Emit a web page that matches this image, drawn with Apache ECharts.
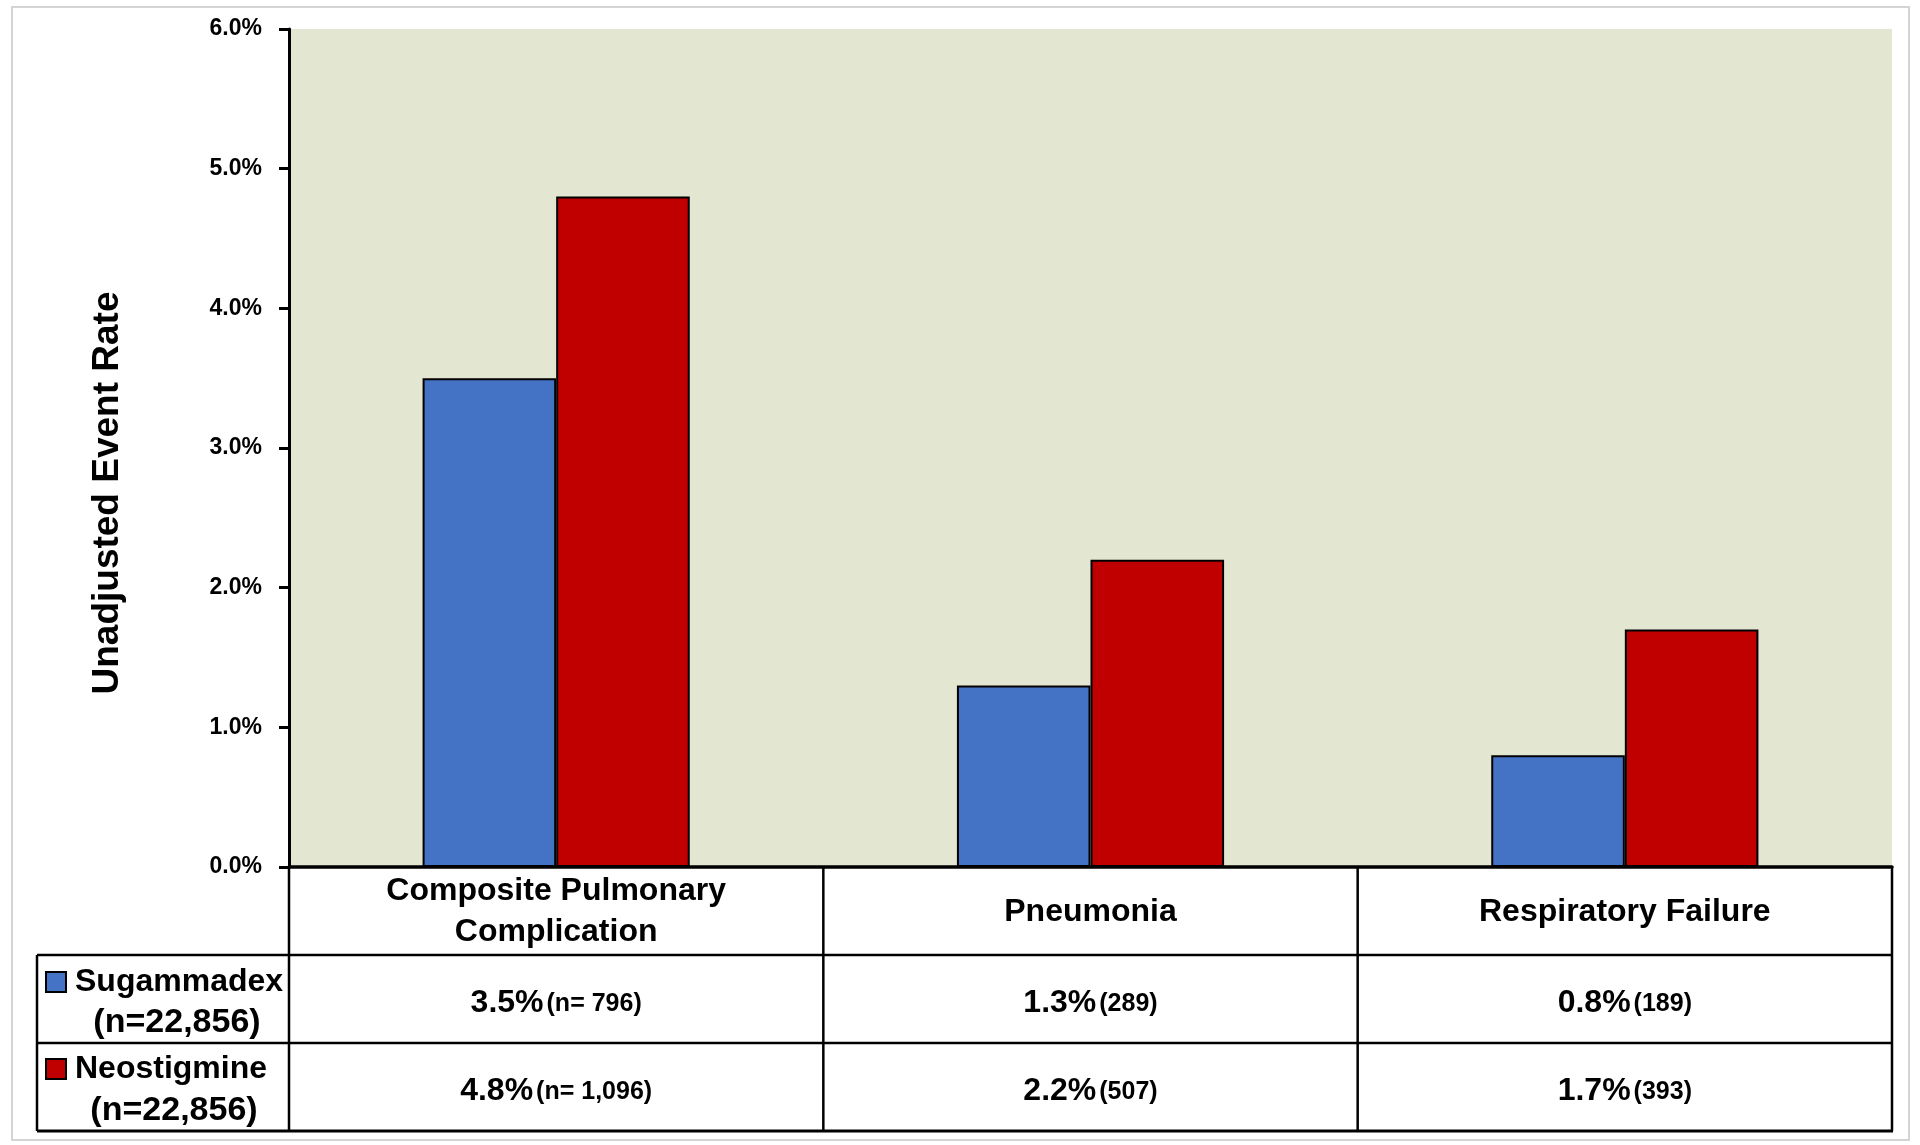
<!DOCTYPE html>
<html>
<head>
<meta charset="utf-8">
<script src="https://cdn.jsdelivr.net/npm/echarts@6/dist/echarts.min.js"></script>
<style>
  html, body { margin: 0; padding: 0; background: #ffffff; }
  #chart { width: 1920px; height: 1145px; }
</style>
</head>
<body>
<div id="chart"></div>
<script>
// ---- Data ----
const categories = ['Composite Pulmonary\nComplication', 'Pneumonia', 'Respiratory Failure'];
const seriesNames = ['Sugammadex', 'Neostigmine'];
const groupSizes = ['(n=22,856)', '(n=22,856)'];
const sugammadexRate = [3.5, 1.3, 0.8];
const neostigmineRate = [4.8, 2.2, 1.7];
const sugammadexCounts = ['(n= 796)', '(289)', '(189)'];
const neostigmineCounts = ['(n= 1,096)', '(507)', '(393)'];
const yMin = 0, yMax = 6, yStep = 1;
const yAxisTitle = 'Unadjusted Event Rate';

// ---- Layout / style ----
const FONT = "'Liberation Sans', Arial, sans-serif";
const colors = ['#4472C4', '#C00000'];
const W = 1920, H = 1145;
const gL = 289, gR = 1892, gT = 29, gB = 867;
const rows = [867, 955, 1043, 1131];
const tableLeft = 37;

const chart = echarts.init(document.getElementById('chart'), null, { renderer: 'canvas', width: W, height: H });

const colW = (gR - gL) / categories.length;
const graphics = [];

// outer frame
graphics.push({
  type: 'rect', silent: true, z: -10,
  shape: { x: 12, y: 7, width: 1897, height: 1133 },
  style: { fill: '#ffffff', stroke: '#d4d4d4', lineWidth: 2 }
});

// table lines
function hline(y, x1, x2, w) {
  graphics.push({ type: 'line', silent: true, z: 50, shape: { x1: x1, y1: y, x2: x2, y2: y }, style: { stroke: '#000', lineWidth: w } });
}
function vline(x, y1, y2, w) {
  graphics.push({ type: 'line', silent: true, z: 50, shape: { x1: x, y1: y1, x2: x, y2: y2 }, style: { stroke: '#000', lineWidth: w } });
}
hline(rows[1], tableLeft, gR, 2.5);
hline(rows[2], tableLeft, gR, 2.5);
hline(rows[3], tableLeft, gR + 1, 3);
vline(tableLeft, rows[1], rows[3], 2.5);
for (let i = 0; i <= categories.length; i++) {
  vline(gL + i * colW, rows[0], rows[3], 2.5);
}

// legend column second lines
const legendCenters = [177, 174];
groupSizes.forEach(function (t, r) {
  graphics.push({
    type: 'text', silent: true, z: 60,
    style: {
      x: legendCenters[r], y: rows[1 + r] + 68, text: t,
      fill: '#000', font: 'bold 34px ' + FONT, align: 'center', verticalAlign: 'middle'
    }
  });
});

// data cells
const rates = [sugammadexRate, neostigmineRate];
const counts = [sugammadexCounts, neostigmineCounts];
for (let r = 0; r < 2; r++) {
  for (let c = 0; c < categories.length; c++) {
    graphics.push({
      type: 'text', silent: true, z: 60,
      style: {
        x: gL + (c + 0.5) * colW, y: (rows[1 + r] + rows[2 + r]) / 2 + 4,
        text: '{a|' + rates[r][c].toFixed(1) + '%}{b|' + counts[r][c] + '}',
        align: 'center', verticalAlign: 'middle',
        rich: {
          a: { fontFamily: FONT, fontWeight: 'bold', fontSize: 32, fill: '#000', color: '#000' },
          b: { fontFamily: FONT, fontWeight: 'bold', fontSize: 25, fill: '#000', color: '#000', padding: [3, 0, 0, 3] }
        }
      }
    });
  }
}

// y axis title
graphics.push({
  type: 'text', silent: true, z: 60,
  x: 108, y: 493, rotation: Math.PI / 2,
  style: {
    x: 0, y: 0, text: yAxisTitle, fill: '#000',
    font: 'bold 37px ' + FONT, align: 'center', verticalAlign: 'middle'
  }
});

const option = {
  backgroundColor: 'transparent',
  animation: false,
  grid: {
    left: gL, top: gT, width: gR - gL, height: gB - gT,
    show: true, backgroundColor: '#E3E7D1', borderWidth: 0
  },
  legend: [
    {
      data: [seriesNames[0]], left: 40, top: rows[1] + 6, orient: 'vertical',
      itemWidth: 20, itemHeight: 20, selectedMode: false, icon: 'rect',
      textStyle: { fontFamily: FONT, fontWeight: 'bold', fontSize: 32, color: '#000', padding: [0, 0, 0, 4] }
    },
    {
      data: [seriesNames[1]], left: 40, top: rows[2] + 5, orient: 'vertical',
      itemWidth: 20, itemHeight: 20, selectedMode: false, icon: 'rect',
      textStyle: { fontFamily: FONT, fontWeight: 'bold', fontSize: 32, color: '#000', padding: [0, 0, 0, 4] }
    }
  ],
  xAxis: {
    type: 'category',
    data: categories,
    axisLine: { show: true, lineStyle: { color: '#000', width: 3.5 } },
    axisTick: { show: false },
    axisLabel: {
      interval: 0, margin: 45, verticalAlign: 'middle',
      fontFamily: FONT, fontWeight: 'bold', fontSize: 32, color: '#000', lineHeight: 41
    },
    z: 55
  },
  yAxis: {
    type: 'value',
    min: yMin, max: yMax, interval: yStep,
    axisLine: { show: true, lineStyle: { color: '#000', width: 3 } },
    axisTick: { show: true, length: 10, lineStyle: { color: '#000', width: 3 } },
    splitLine: { show: false },
    axisLabel: {
      margin: 27, fontFamily: FONT, fontWeight: 'bold', fontSize: 23, color: '#000',
      formatter: function (v) { return v.toFixed(1) + '%'; }
    }
  },
  series: [
    {
      name: seriesNames[0], type: 'bar', data: sugammadexRate,
      barGap: '0%', barCategoryGap: '50%',
      itemStyle: { color: colors[0], borderColor: '#000', borderWidth: 2 }
    },
    {
      name: seriesNames[1], type: 'bar', data: neostigmineRate,
      barGap: '0%', barCategoryGap: '50%',
      itemStyle: { color: colors[1], borderColor: '#000', borderWidth: 2 }
    }
  ],
  graphic: graphics
};

chart.setOption(option);
</script>
</body>
</html>
